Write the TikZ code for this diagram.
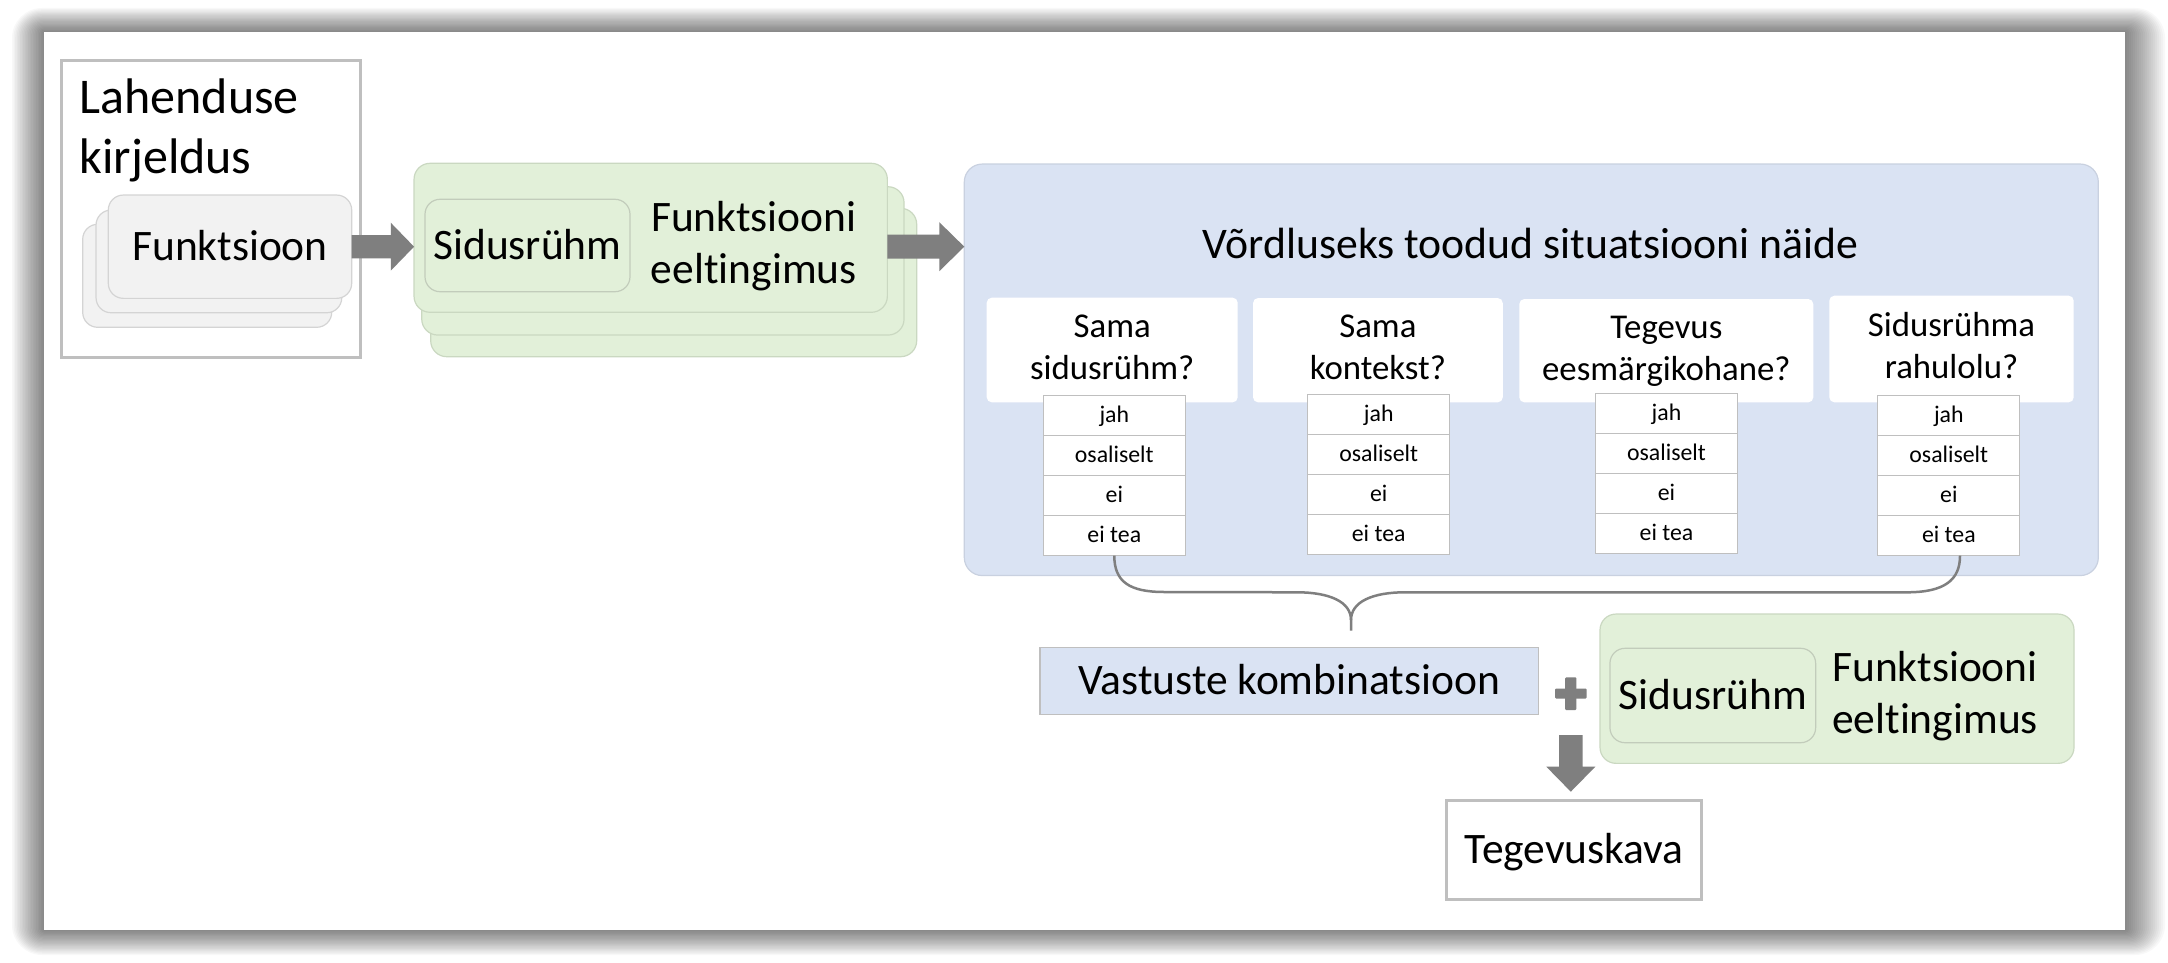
\documentclass[tikz,border=0pt]{standalone}
\usepackage{fontspec}
\setmainfont{Carlito}[Ligatures=NoCommon]
\usetikzlibrary{calc}
\definecolor{agray}{HTML}{7F7F7F}
\definecolor{bfill}{HTML}{DAE3F3}
\definecolor{bline}{HTML}{C9D1E0}
\definecolor{gfill}{HTML}{E2F0D9}
\definecolor{gline}{HTML}{CAD8C1}
\definecolor{iline}{HTML}{C2CCBB}
\definecolor{sfill}{HTML}{F2F2F2}
\definecolor{sline}{HTML}{D4D4D4}
\definecolor{lgray}{HTML}{BFBFBF}
\begin{document}
\begin{tikzpicture}[x=1pt,y=-1pt,
  plain/.style={inner sep=0pt, outer sep=0pt},
  bigfont/.style={font=\fontsize{43.5}{51.6}\selectfont},
  bigtext/.style={bigfont, text height=34pt, text depth=6pt},
  lahbox/.style={plain, draw=lgray, line width=3pt, fill=white},
  stackbox/.style={plain, draw=sline, line width=1.2pt, fill=sfill, rounded corners=15pt},
  greenbox/.style={plain, draw=gline, line width=1.2pt, fill=gfill, rounded corners=16pt},
  innerbox/.style={plain, draw=iline, line width=1.2pt, fill=gfill, rounded corners=15pt, bigtext},
  bluebox/.style={plain, draw=bline, line width=1.2pt, fill=bfill, rounded corners=18pt},
  qbox/.style={plain, fill=white, rounded corners=5pt, align=center, font=\fontsize{34.8}{42}\selectfont},
  cell/.style={plain, draw=lgray, line width=1.2pt, fill=white, minimum width=142pt, minimum height=40pt,
     font=\fontsize{23.8}{28}\selectfont, text height=17pt, text depth=3pt},
  plainbox/.style={plain, draw=lgray, fill=white, bigtext},
  bracestyle/.style={draw=agray, line width=2.5pt, line join=round}
]
\useasboundingbox (0,0) rectangle (2168,963);
\fill[white] (0,0) rectangle (2168,963);
% shadow of the frame
\foreach \i [evaluate=\i as \r using 1.5*\i] in {1,...,20} {
  \fill[black, opacity=0.026, rounded corners=\r pt] (44-1.6*\i, 32-1.2*\i) rectangle (2125+2*\i, 930+1.25*\i);
}
\fill[white] (44,32) rectangle (2125,930);

% Lahenduse kirjeldus
\node[lahbox, minimum width=299pt, minimum height=297.3pt] (lah) at (211.2,208.7) {};
\node[plain, anchor=north west, align=left, font=\fontsize{50}{60}\selectfont] (lahtext) at (79.5,71.3) {\strut Lahenduse\\\strut kirjeldus};
\node[stackbox, minimum width=249pt, minimum height=103pt] (f3) at (207.2,275.8) {};
\node[stackbox, minimum width=245.7pt, minimum height=102.7pt] (f2) at (218.9,261.4) {};
\node[stackbox, minimum width=243.4pt, minimum height=103.3pt, bigtext] (f1) at (230,246.7) {Funktsioon};

% green stack
\node[greenbox, minimum width=486pt, minimum height=148.4pt] (g3) at (673.7,282.5) {};
\node[greenbox, minimum width=482.3pt, minimum height=148.3pt] (g2) at (662.9,260.9) {};
\node[greenbox, minimum width=473.3pt, minimum height=149pt] (g1) at (650.7,237.8) {};
\node[innerbox, minimum width=205pt, minimum height=92.4pt] (s1) at (527.5,245.5) {Sidusrühm};
\node[plain, anchor=north, align=center, bigfont] (pre1) at (753.8,195.6) {\strut Funktsiooni\\\strut eeltingimus};

% arrow 1
\coordinate (a1s) at (f1.east);
\coordinate (a1e) at (a1s -| g1.west);
\fill[agray] ($(a1s)+(0,-11.7)$) -- ($(a1e)+(-23.3,-11.7)$) -- ($(a1e)+(-23.3,-24)$) -- (a1e)
  -- ($(a1e)+(-23.3,24)$) -- ($(a1e)+(-23.3,11.7)$) -- ($(a1s)+(0,11.7)$) -- cycle;

% blue box
\node[bluebox, minimum width=1134pt, minimum height=411.5pt] (blue) at (1531.3,369.8) {};
\node[plain, anchor=base, font=\fontsize{43.7}{52}\selectfont] (title) at (1530.5,258.3) {Võrdluseks toodud situatsiooni näide};

% arrow 2
\coordinate (a2s) at (g1.east |- f1.east);
\coordinate (a2e) at (a2s -| blue.west);
\fill[agray] ($(a2s)+(0,-12)$) -- ($(a2e)+(-25,-12)$) -- ($(a2e)+(-25,-24.5)$) -- (a2e)
  -- ($(a2e)+(-25,24.5)$) -- ($(a2e)+(-25,12)$) -- ($(a2s)+(0,12)$) -- cycle;

% question boxes
\node[qbox, minimum width=251pt, minimum height=104.6pt] (q1) at (1112.2,350) {\strut Sama\\\strut sidusrühm?};
\node[qbox, minimum width=249.7pt, minimum height=104.3pt] (q2) at (1377.9,350.2) {\strut Sama\\\strut kontekst?};
\node[qbox, minimum width=294pt, minimum height=103.3pt] (q3) at (1666.3,350.7) {\strut Tegevus\\\strut eesmärgikohane?};
\node[qbox, minimum width=244.4pt, minimum height=106.6pt] (q4) at (1951.5,349) {\strut Sidusrühma\\\strut rahulolu?};

% answer tables
\foreach \n/\cx/\ty in {1/1114.3/395.7, 2/1378.7/394.3, 3/1666.5/393.3, 4/1948.8/395.7} {
  \node[cell] (t\n-a) at (\cx,\ty+20) {jah};
  \node[cell] (t\n-b) at (\cx,\ty+60) {osaliselt};
  \node[cell] (t\n-c) at (\cx,\ty+100) {ei};
  \node[cell] (t\n-d) at (\cx,\ty+140) {ei tea};
}

% brace
\coordinate (bjoin) at (1351,620);
\coordinate (btip) at (1351,630.7);
\coordinate (bend) at ($(t4-d.south)+(11.2,0)$);
\draw[bracestyle] (t1-d.south) .. controls ($(t1-d.south)+(0,26)$) and ($(t1-d.south)+(15,36.3)$) .. ($(t1-d.south)+(50,36.3)$)
  -- (1296.7,592.3) .. controls (1330,592.3) and (1351,602) .. (bjoin) -- (btip);
\draw[bracestyle] (bjoin) .. controls (1351,602) and (1372,592.3) .. (1405,592.3)
  -- (1906.7,592.3) .. controls (1945,592.3) and ($(bend)+(0,24)$) .. (bend);

% bottom part
\node[plain, draw=lgray, line width=1.5pt, fill=bfill, bigtext, minimum width=498.7pt, minimum height=67pt] (vast) at (1289.3,680.8) {Vastuste kombinatsioon};
\coordinate (plus) at (1570.8,693.5);
\fill[agray, rounded corners=1pt] ($(plus)+(-15.8,-5)$) rectangle ($(plus)+(15.8,5)$);
\fill[agray, rounded corners=1pt] ($(plus)+(-5.6,-16.2)$) rectangle ($(plus)+(5.6,16.5)$);
\node[greenbox, minimum width=474pt, minimum height=149.3pt] (g4) at (1837,688.7) {};
\node[innerbox, minimum width=205.7pt, minimum height=94.4pt] (s2) at (1712.8,695.5) {Sidusrühm};
\node[plain, anchor=north, align=center, bigfont] (pre2) at (1935,645.6) {\strut Funktsiooni\\\strut eeltingimus};
\node[plainbox, line width=3pt, minimum width=255pt, minimum height=99pt] (teg) at (1574.2,849.5) {Tegevuskava};

% down arrow
\coordinate (dts) at (1570.8,735);
\coordinate (dte) at ($(dts |- teg.north)+(0,-8.3)$);
\fill[agray] ($(dts)+(-11.7,0)$) -- ($(dte)+(-11.7,-25)$) -- ($(dte)+(-24.5,-25)$) -- (dte)
  -- ($(dte)+(24.5,-25)$) -- ($(dte)+(11.7,-25)$) -- ($(dts)+(11.7,0)$) -- cycle;
\end{tikzpicture}
\end{document}
